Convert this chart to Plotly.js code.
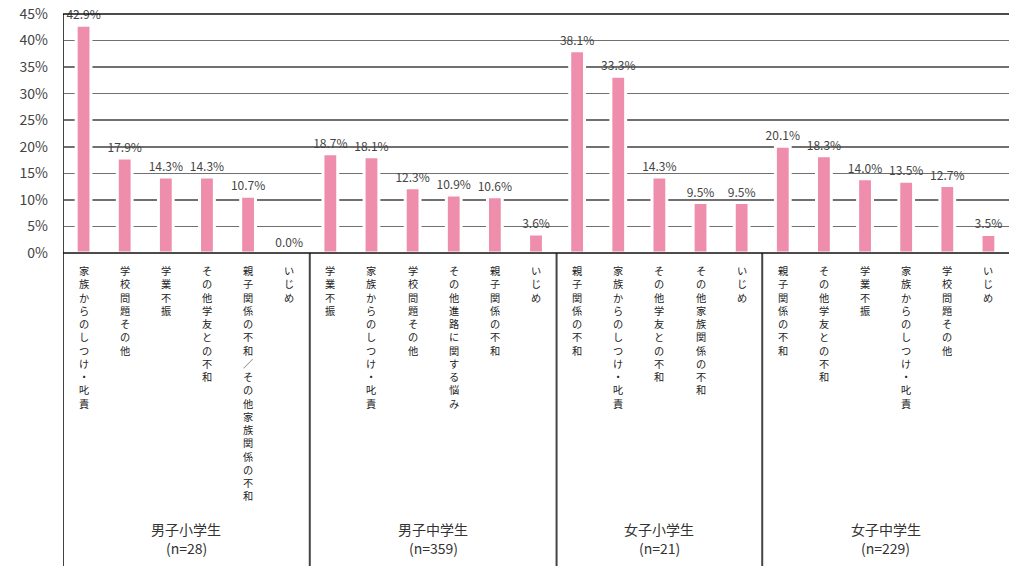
<!DOCTYPE html>
<html>
<head>
<meta charset="utf-8">
<script src="https://cdn.plot.ly/plotly-3.0.1.min.js"></script>
<style>html,body{margin:0;padding:0;background:#fff;}#chart{width:1009px;height:566px;}</style>
</head>
<body>
<div id="chart"></div>
<script>
const groupNames = ['男子小学生', '男子中学生', '女子小学生', '女子中学生'];
const groupN = [28, 359, 21, 229];

const cats1 = ['家族からのしつけ・叱責', '学校問題その他', '学業不振', 'その他学友との不和', '親子関係の不和／その他家族関係の不和', 'いじめ'];
const vals1 = [42.9, 17.9, 14.3, 14.3, 10.7, 0.0];
const cats2 = ['学業不振', '家族からのしつけ・叱責', '学校問題その他', 'その他進路に関する悩み', '親子関係の不和', 'いじめ'];
const vals2 = [18.7, 18.1, 12.3, 10.9, 10.6, 3.6];
const cats3 = ['親子関係の不和', '家族からのしつけ・叱責', 'その他学友との不和', 'その他家族関係の不和', 'いじめ'];
const vals3 = [38.1, 33.3, 14.3, 9.5, 9.5];
const cats4 = ['親子関係の不和', 'その他学友との不和', '学業不振', '家族からのしつけ・叱責', '学校問題その他', 'いじめ'];
const vals4 = [20.1, 18.3, 14.0, 13.5, 12.7, 3.5];

const yTicks = [0, 5, 10, 15, 20, 25, 30, 35, 40, 45];

const allCats = [cats1, cats2, cats3, cats4];
const allVals = [vals1, vals2, vals3, vals4];

const xs = [], ys = [], labels = [], cats = [];
let pos = 0;
const bounds = [0];
const centers = [];
allCats.forEach((cs, g) => {
  const start = pos;
  cs.forEach((c, i) => {
    xs.push(pos); ys.push(allVals[g][i]); labels.push(allVals[g][i].toFixed(1) + '%'); cats.push(c);
    pos++;
  });
  centers.push((start + pos - 1) / 2);
  bounds.push(pos);
});
const nTotal = pos;

const FONT = '"Noto Sans CJK JP", "Noto Sans", sans-serif';
const plotH = 566 - 14 - 313;
const bottomPaper = -313 / plotH;

const annotations = [];
cats.forEach((c, i) => {
  annotations.push({
    x: xs[i], xref: 'x', y: 0, yref: 'paper', yshift: -8,
    xanchor: 'center', yanchor: 'top', showarrow: false,
    text: Array.from(c).join('<br>'),
    font: {family: FONT, size: 10.2, color: '#222'}, align: 'center'
  });
});
groupNames.forEach((g, i) => {
  annotations.push({
    x: centers[i], xref: 'x', y: 0, yref: 'paper', yshift: -264,
    xanchor: 'center', yanchor: 'top', showarrow: false,
    text: g,
    font: {family: FONT, size: 14, color: '#333'}, align: 'center'
  });
  annotations.push({
    x: centers[i], xref: 'x', y: 0, yref: 'paper', yshift: -283,
    xanchor: 'center', yanchor: 'top', showarrow: false,
    text: '(n=' + groupN[i] + ')',
    font: {family: FONT, size: 14, color: '#333'}, align: 'center'
  });
});

const shapes = [];
bounds.forEach((b, i) => {
  if (i === bounds.length - 1) return;
  shapes.push({
    type: 'line', xref: 'x', yref: 'paper', x0: b - 0.5, x1: b - 0.5,
    y0: bottomPaper, y1: i === 0 ? 1 : 0,
    line: {color: '#444', width: 2}
  });
});
shapes.push({type: 'line', xref: 'paper', yref: 'paper', x0: 0, x1: 1, y0: 1, y1: 1, line: {color: '#111', width: 1.5}});
shapes.push({type: 'line', xref: 'paper', yref: 'paper', x0: 0, x1: 1, y0: 0, y1: 0, line: {color: '#111', width: 1.5}});

const trace = {
  type: 'bar', x: xs, y: ys, text: labels,
  textposition: 'outside', cliponaxis: false, constraintext: 'none',
  textfont: {family: FONT, size: 12, color: '#444'},
  width: 0.36,
  marker: {color: '#ee8eac', line: {color: '#ffffff', width: 3}},
  hoverinfo: 'skip'
};

const layout = {
  width: 1009, height: 566,
  margin: {l: 63, r: 0, t: 14, b: 313},
  paper_bgcolor: '#fff', plot_bgcolor: '#fff',
  showlegend: false,
  xaxis: {range: [-0.5, nTotal - 0.5], showticklabels: false, showgrid: false, zeroline: false, ticks: '', showline: false, fixedrange: true},
  yaxis: {range: [0, 45], tickvals: yTicks, ticktext: yTicks.map(v => v + '%'),
    showgrid: true, gridcolor: '#707070', gridwidth: 1.5, zeroline: false, showline: false,
    ticks: '', ticklabelstandoff: 14,
    tickfont: {family: FONT, size: 14, color: '#444'}, fixedrange: true},
  annotations: annotations,
  shapes: shapes,
  bargap: 0
};

Plotly.newPlot('chart', [trace], layout, {displayModeBar: false, staticPlot: true});
</script>
</body>
</html>
